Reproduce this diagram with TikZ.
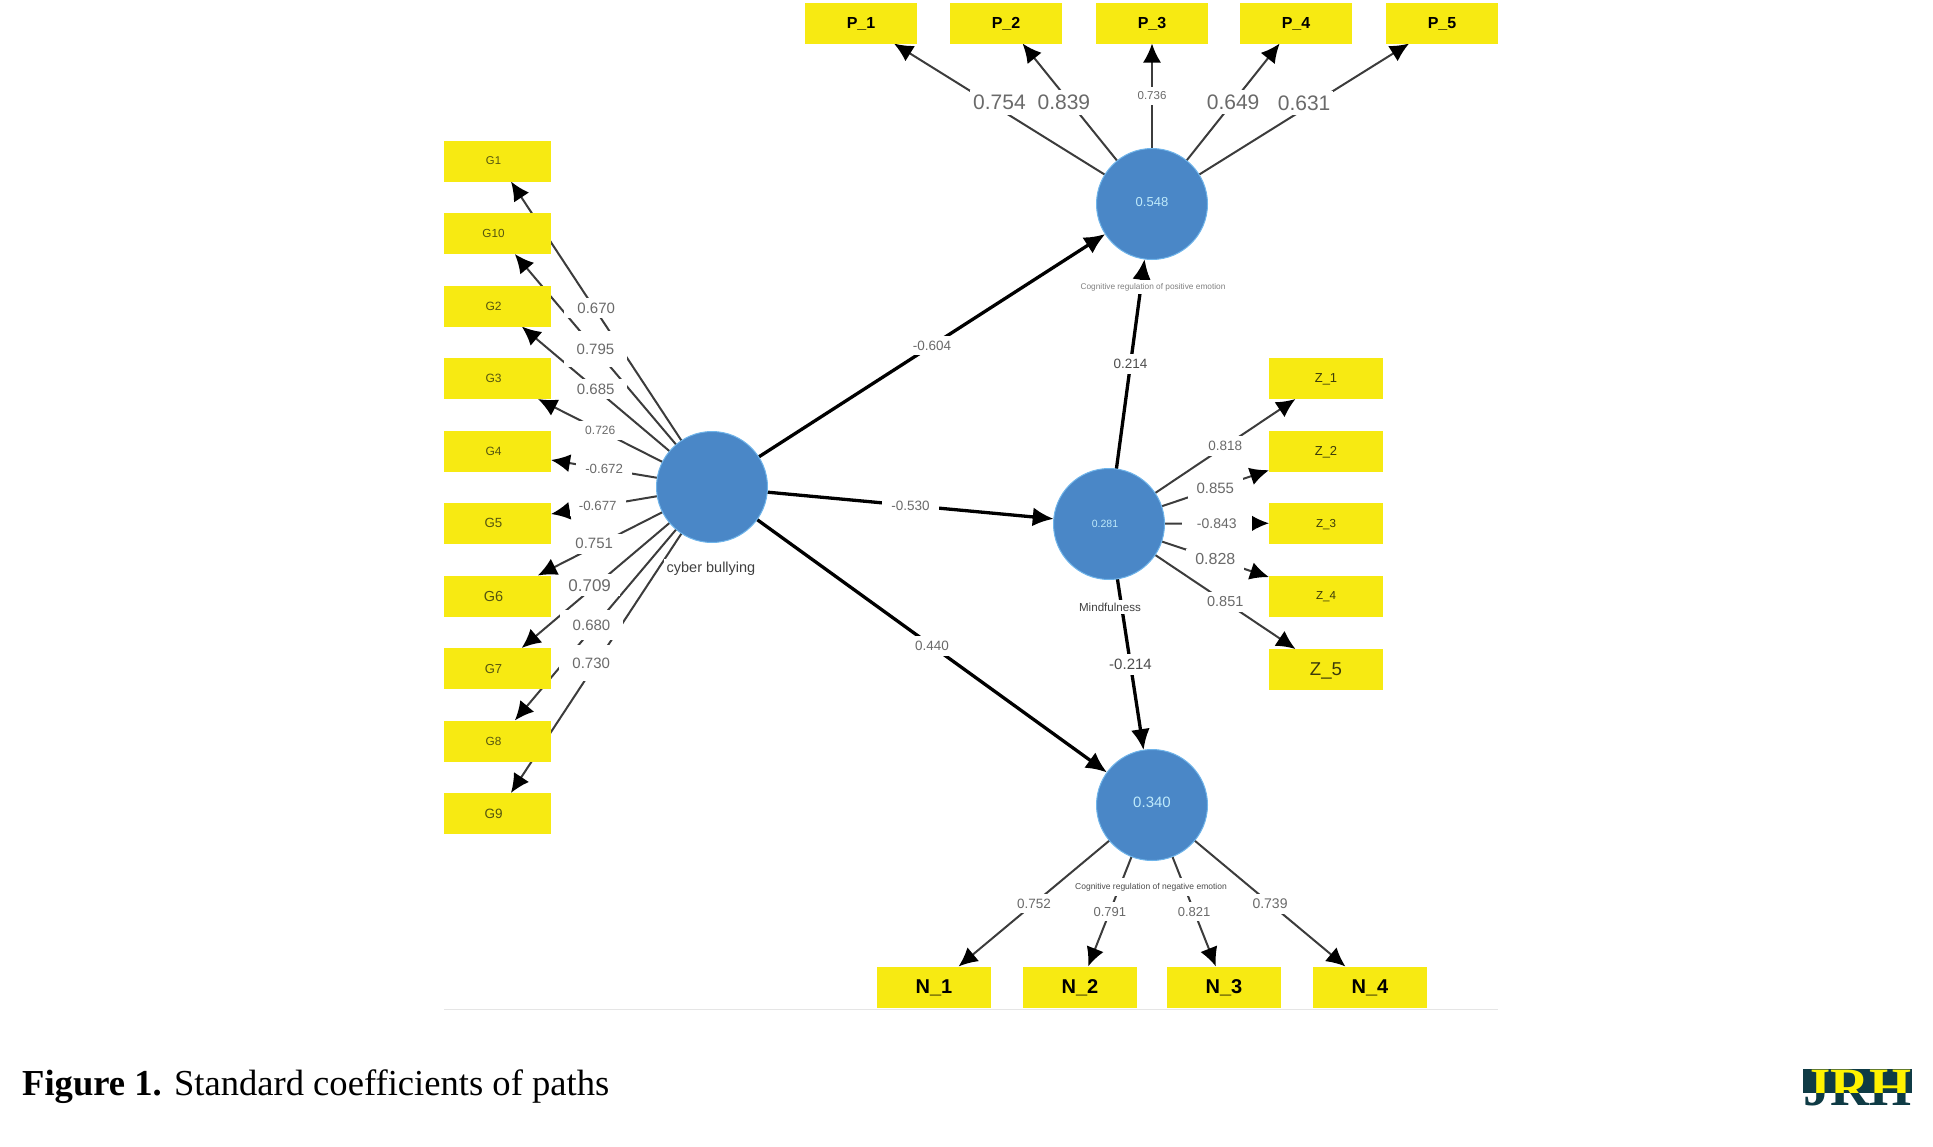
\documentclass[tikz,border=0pt]{standalone}
\usepackage{fontspec}
\setmainfont{Liberation Sans}
\newfontfamily\capfont{Liberation Serif}
\usetikzlibrary{arrows.meta,backgrounds}
\definecolor{itemyellow}{HTML}{F7EA12}
\definecolor{latentblue}{HTML}{4A87C7}
\definecolor{latentrim}{HTML}{6FB4EA}
\definecolor{linegray}{HTML}{3C3C3C}
\definecolor{coefgray}{HTML}{6A6A6A}
\definecolor{gtext}{HTML}{55550F}
\definecolor{logoteal}{HTML}{0F3B45}
\definecolor{logoyellow}{HTML}{FFF200}
\tikzset{
  sized/.style={font=\fontsize{#1}{#1}\selectfont},
  ibox/.style={fill=itemyellow, inner sep=0pt, outer sep=0pt, minimum height=41pt, text depth=0pt},
  gitem/.style={ibox, sized=#1, minimum width=107pt, text=gtext, execute at end node={\hspace{8pt}}},
  zitem/.style={ibox, sized=#1, minimum width=114pt, text=gtext!70!black},
  pitem/.style={ibox, minimum width=112pt, font=\fontsize{16}{16}\selectfont\bfseries},
  nitem/.style={ibox, minimum width=114pt, font=\fontsize{20}{20}\selectfont\bfseries},
  latent/.style={circle, fill=latentblue, draw=latentrim, line width=1pt, minimum size=111pt,
    inner sep=0pt, outer sep=0pt, text=white!75!cyan, sized=#1},
  coef/.style={fill=white, inner xsep=9pt, inner ysep=5pt, text=coefgray, midway, sized=#1},
  varlabel/.style={fill=white, inner sep=3pt, sized=#1},
  loading/.style={->, >={Latex[length=19pt,width=18pt,color=black,fill=black]}, line width=2pt, color=linegray},
  structural/.style={->, >={Latex[length=21pt,width=19pt]}, line width=3.3pt, color=black},
}
\begin{document}
\begin{tikzpicture}[x=1pt, y=-1pt]
    \useasboundingbox (0,0) rectangle (1933,1146);

    \node[latent=10] (cyber) at (712,487) {};
    \node[latent=13, text depth=5pt] (posemo) at (1152,204) {0.548};
    \node[latent=10.5, execute at end node={\hspace{8pt}}] (mind) at (1109,524) {0.281};
    \node[latent=15, text depth=5pt] (negemo) at (1152,805) {0.340};

    \node[gitem=11.3] (G1) at (497.5,161) {G1};
    \node[gitem=11.7] (G10) at (497.5,233.5) {G10};
    \node[gitem=12] (G2) at (497.5,306) {G2};
    \node[gitem=12] (G3) at (497.5,378.5) {G3};
    \node[gitem=12] (G4) at (497.5,451) {G4};
    \node[gitem=13.3] (G5) at (497.5,523) {G5};
    \node[gitem=14.5] (G6) at (497.5,596) {G6};
    \node[gitem=13] (G7) at (497.5,668.5) {G7};
    \node[gitem=11.8] (G8) at (497.5,741) {G8};
    \node[gitem=13.5] (G9) at (497.5,813.5) {G9};

    \node[pitem] (P1) at (861,23) {P\_1};
    \node[pitem] (P2) at (1006,23) {P\_2};
    \node[pitem] (P3) at (1152,23) {P\_3};
    \node[pitem] (P4) at (1296,23) {P\_4};
    \node[pitem] (P5) at (1442,23) {P\_5};

    \node[zitem=13] (Z1) at (1326,378.5) {Z\_1};
    \node[zitem=13] (Z2) at (1326,451) {Z\_2};
    \node[zitem=11.6] (Z3) at (1326,523) {Z\_3};
    \node[zitem=11.6] (Z4) at (1326,596) {Z\_4};
    \node[zitem=18.6] (Z5) at (1326,669.5) {Z\_5};

    \node[nitem] (N1) at (934,987) {N\_1};
    \node[nitem] (N2) at (1080,987) {N\_2};
    \node[nitem] (N3) at (1224,987) {N\_3};
    \node[nitem] (N4) at (1370,987) {N\_4};

    \begin{pgfonlayer}{background}
    \path[loading]
    (cyber) edge (G1) (cyber) edge (G10) (cyber) edge (G2) (cyber) edge (G3) (cyber) edge (G4)
    (cyber) edge (G5) (cyber) edge (G6) (cyber) edge (G7) (cyber) edge (G8) (cyber) edge (G9)
    (posemo) edge (P1) (posemo) edge (P2) (posemo) edge (P3) (posemo) edge (P4) (posemo) edge (P5)
    (mind) edge (Z1) (mind) edge (Z2) (mind) edge (Z3) (mind) edge (Z4) (mind) edge (Z5)
    (negemo) edge (N1) (negemo) edge (N2) (negemo) edge (N3) (negemo) edge (N4)
    ;
    \path[structural]
    (cyber) edge (posemo) (cyber) edge (mind) (cyber) edge (negemo)
    (mind) edge (posemo) (mind) edge (negemo)
    ;
    \end{pgfonlayer}

    \path
    (cyber) -- node[coef=15, inner xsep=13pt, yshift=3pt] (cG1) {0.670} (G1)
    (cyber) -- node[coef=15, inner xsep=13pt, minimum height=36pt] (cG10) {0.795} (G10)
    (cyber) -- node[coef=15, inner xsep=13pt] (cG2) {0.685} (G2)
    (cyber) -- node[coef=12] (cG3) {0.726} (G3)
    (cyber) -- node[coef=13.3] (cG4) {-0.672} (G4)
    (cyber) -- node[coef=13.3, pos=.56] (cG5) {-0.677} (G5)
    (cyber) -- node[coef=15, xshift=-6pt] (cG6) {0.751} (G6)
    (cyber) -- node[coef=17, xshift=-6pt] (cG7) {0.709} (G7)
    (cyber) -- node[coef=15, inner xsep=13pt, minimum height=30pt, xshift=-4pt] (cG8) {0.680} (G8)
    (cyber) -- node[coef=15, inner xsep=13pt, minimum height=36pt, xshift=-5pt] (cG9) {0.730} (G9)
    (posemo) -- node[coef=21, inner xsep=3pt, yshift=7pt] (cP1) {0.754} (P1)
    (posemo) -- node[coef=21, inner xsep=3pt, xshift=-6pt] (cP2) {0.839} (P2)
    (posemo) -- node[coef=11.5] (cP3) {0.736} (P3)
    (posemo) -- node[coef=21, inner xsep=3pt] (cP4) {0.649} (P4)
    (posemo) -- node[coef=21, inner xsep=3pt, yshift=6pt] (cP5) {0.631} (P5)
    (mind) -- node[coef=13.5] (cZ1) {0.818} (Z1)
    (mind) -- node[coef=15] (cZ2) {0.855} (Z2)
    (mind) -- node[coef=14, inner xsep=15pt] (cZ3) {-0.843} (Z3)
    (mind) -- node[coef=16] (cZ4) {0.828} (Z4)
    (mind) -- node[coef=14.5] (cZ5) {0.851} (Z5)
    (negemo) -- node[coef=13.5] (cN1) {0.752} (N1)
    (negemo) -- node[coef=13] (cN2) {0.791} (N2)
    (negemo) -- node[coef=13] (cN3) {0.821} (N3)
    (negemo) -- node[coef=14] (cN4) {0.739} (N4)
    (cyber) -- node[coef=13.5] (cposemo) {-0.604} (posemo)
    (cyber) -- node[coef=13.5] (cmind) {-0.530} (mind)
    (cyber) -- node[coef=13.5] (cnegemo) {0.440} (negemo)
    (mind) -- node[coef=13.5, text=black!70] (mposemo) {0.214} (posemo)
    (mind) -- node[coef=15, text=black!70] (mnegemo) {-0.214} (negemo)
    ;

    \node[varlabel=14.5, text=black!75] (cyberlab) at (711,569) {cyber bullying};
    \node[varlabel=11.6, text=black!75] (mindlab) at (1110,607) {Mindfulness};
    \node[varlabel=8.3, text=black!50] (poslab) at (1153,287) {Cognitive regulation of positive emotion};
    \node[varlabel=8.5, inner ysep=5pt, text=black!70] (neglab) at (1151,887) {Cognitive regulation of negative emotion};

    \coordinate (footl) at (444,1009);
    \coordinate (footr) at (1498,1009);
    \begin{pgfonlayer}{background}
    \draw[black!10] (footl) -- (footr);
    \end{pgfonlayer}

    \node[anchor=base west, inner sep=0pt, font=\capfont\fontsize{36.6}{36.6}\selectfont] (caption) at (22,1095)
    {\textbf{Figure 1.} Standard coefficients of paths};

    \fill[logoteal] (1803,1069) rectangle (1912,1093);
    \begin{scope}
    \clip (1803,1069) rectangle (1912,1093);
    \node[anchor=base, inner sep=0pt, text=logoyellow, font=\capfont\fontsize{54}{54}\selectfont\bfseries] (logotop) at (1857.5,1105) {JRH};
    \end{scope}
    \begin{scope}
    \clip (1803,1093) rectangle (1912,1110);
    \node[anchor=base, inner sep=0pt, text=logoteal, font=\capfont\fontsize{54}{54}\selectfont\bfseries] (logobot) at (1857.5,1105) {JRH};
    \end{scope}
\end{tikzpicture}
\end{document}
